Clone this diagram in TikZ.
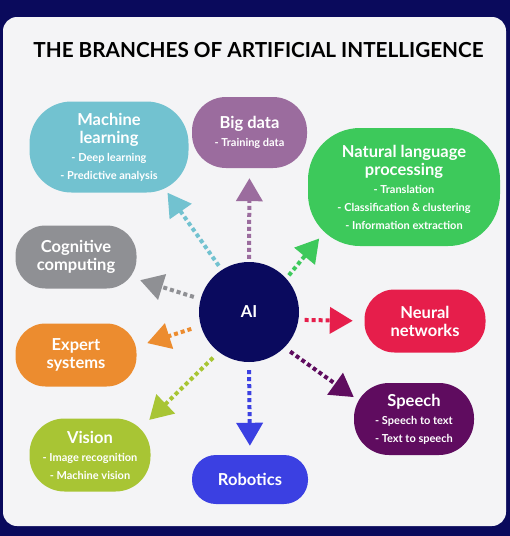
\documentclass[tikz,border=0pt]{standalone}
\usepackage{fontspec}
\setmainfont{Lato}
\usetikzlibrary{arrows.meta, positioning}

\definecolor{frame}{HTML}{0A0A5C}
\definecolor{card}{HTML}{F4F4F6}
\definecolor{aiblue}{HTML}{0A0A5E}
\definecolor{mlcol}{HTML}{72C2D0}
\definecolor{bdcol}{HTML}{9B6C9E}
\definecolor{nlpcol}{HTML}{3DC95B}
\definecolor{cccol}{HTML}{8F9094}
\definecolor{excol}{HTML}{EC8C2F}
\definecolor{vicol}{HTML}{A8C534}
\definecolor{rocol}{HTML}{3B40E2}
\definecolor{nncol}{HTML}{E61E4B}
\definecolor{spcol}{HTML}{5F0C5F}

\newcommand{\detail}[1]{{\fontsize{11}{13}\selectfont - #1}}

\begin{document}
\begin{tikzpicture}[x=1pt, y=-1pt,
    branch/.style={rounded corners=#1, text=white, align=center, inner sep=0pt,
        font=\bfseries\fontsize{16.5}{18}\selectfont},
    branch/.default=30pt,
    link/.style={line width=4pt, dash pattern=on 4pt off 3pt,
        -{Triangle[length=23pt, width=26pt]}}]
    % card
    \fill[frame] (0,0) rectangle (510,536);
    \fill[card, rounded corners=14pt] (3,17) rectangle (506,526);
    \node[anchor=base, font=\bfseries\fontsize{20.7}{24}\selectfont] (title) at (258.5,57) {THE BRANCHES OF ARTIFICIAL INTELLIGENCE};

    % centre
    \node[circle, fill=aiblue, minimum size=100pt, inner sep=0pt, text=white, font=\bfseries\fontsize{16.5}{18}\selectfont] (ai) at (249,312) {AI};

    % branches
    \node[branch=42pt, fill=mlcol, minimum width=159pt, minimum height=91pt] (ml) at (109,147) {Machine\\learning\\\detail{Deep learning}\\\detail{Predictive analysis}};
    \node[branch=34pt, fill=bdcol, minimum width=115pt, minimum height=71pt] (bd) at (249.5,132.5) {Big data\\\detail{Training data}};
    \node[branch=52pt, fill=nlpcol, minimum width=192pt, minimum height=118pt] (nlp) at (404,187) {Natural language\\processing\\\detail{Translation}\\\detail{Classification \& clustering}\\\detail{Information extraction}};
    \node[branch, fill=cccol, minimum width=121pt, minimum height=63pt] (cc) at (76,257) {Cognitive\\computing};
    \node[branch, fill=excol, minimum width=121pt, minimum height=63pt] (ex) at (76,355) {Expert\\systems};
    \node[branch=35pt, fill=vicol, minimum width=121pt, minimum height=73pt] (vi) at (90,455) {Vision\\\detail{Image recognition}\\\detail{Machine vision}};
    \node[branch=24pt, fill=rocol, minimum width=116pt, minimum height=49pt] (ro) at (250,479.5) {Robotics};
    \node[branch, fill=nncol, minimum width=121pt, minimum height=63pt] (nn) at (425,321) {Neural\\networks};
    \node[branch=35pt, fill=spcol, minimum width=120pt, minimum height=72pt] (sp) at (414,419) {Speech\\\detail{Speech to text}\\\detail{Text to speech}};

    % dotted arrows out of the centre
    \foreach \tgt/\col/\from/\to/\sa/\sb in {ml/mlcol/123/-38/5/0, bd/bdcol/90/270/3/10,
        nlp/nlpcol/42/213/4/-10, cc/cccol/165/-20/7/3.6, ex/excol/196/8/10/11,
        vi/vicol/233/31.5/8/-2, ro/rocol/270/90/8/9, nn/nncol/-9/180/6/11.5,
        sp/spcol/-45/160/7/0} {
        \draw[link, \col, shorten <=\sa pt, shorten >=\sb pt] (ai.\from) -- (\tgt.\to);
    }
\end{tikzpicture}
\end{document}
